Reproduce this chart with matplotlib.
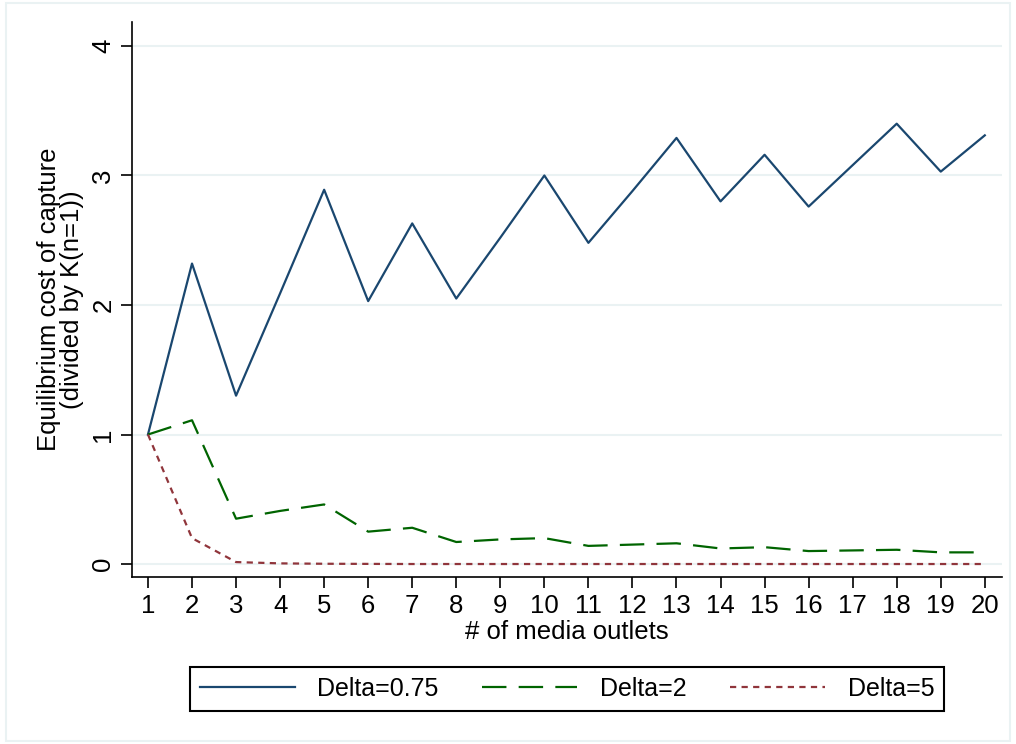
import matplotlib
matplotlib.use("Agg")
import matplotlib.pyplot as plt
from matplotlib.patches import Rectangle

plt.rcParams['font.family'] = ['Liberation Sans', 'DejaVu Sans']

outlets = list(range(1, 21))
delta_075 = [1.00, 2.32, 1.30, 2.09, 2.89, 2.03, 2.63, 2.05, 2.52, 3.00,
             2.48, 2.88, 3.29, 2.80, 3.16, 2.76, 3.08, 3.40, 3.03, 3.31]
delta_2 = [1.00, 1.11, 0.35, 0.41, 0.46, 0.25, 0.28, 0.17, 0.19, 0.20,
           0.14, 0.15, 0.16, 0.12, 0.13, 0.10, 0.105, 0.11, 0.09, 0.09]
delta_5 = [1.00, 0.20, 0.015, 0.005, 0.002, 0.001, 0.0, 0.0, 0.0, 0.0,
           0.0, 0.0, 0.0, 0.0, 0.0, 0.0, 0.0, 0.0, 0.0, 0.0]
labels = ["Delta=0.75", "Delta=2", "Delta=5"]
yticks = [0, 1, 2, 3, 4]

fig = plt.figure(figsize=(10.16, 7.44), dpi=100)
fig.patches.append(Rectangle((0.006, 0.004), 0.988, 0.992, transform=fig.transFigure,
                             fill=False, edgecolor='#eaf2f3', linewidth=1.5))
ax = fig.add_axes([0.1299, 0.2245, 0.8563, 0.7459])

for y in yticks:
    ax.axhline(y, color='#eaf2f3', linewidth=1.5, zorder=0)

ax.plot(outlets, delta_075, color='#1a476f', linewidth=1.6, label=labels[0])
ax.plot(outlets, delta_2, color='#006400', linewidth=1.6, dashes=(11, 5.5), label=labels[1])
ax.plot(outlets, delta_5, color='#90353b', linewidth=1.6, dashes=(2.8, 2.4), label=labels[2])

ax.set_xlim(0.637, 20.39)
ax.set_ylim(-0.10, 4.185)
ax.set_xticks(outlets)
ax.set_yticks(yticks)
ax.spines['top'].set_visible(False)
ax.spines['right'].set_visible(False)
for s in ('left', 'bottom'):
    ax.spines[s].set_linewidth(1.2)
ax.tick_params(axis='both', direction='out', length=8, width=1.2, labelsize=18.5, pad=4)
for lab in ax.get_yticklabels():
    lab.set_rotation(90)
    lab.set_va('center')
ax.set_xlabel("# of media outlets", fontsize=18.5, labelpad=2)
ax.set_ylabel("Equilibrium cost of capture\n(divided by K(n=1))", fontsize=18.5,
              labelpad=5, linespacing=0.95)

leg = fig.legend(loc='center', bbox_to_anchor=(0.558, 0.074), ncol=3, fontsize=18,
                 frameon=True, fancybox=False, edgecolor='black', framealpha=1,
                 handlelength=3.8, columnspacing=1.75, handletextpad=0.9,
                 borderpad=0.4, borderaxespad=0)
leg.get_frame().set_linewidth(1.5)

fig.savefig("out.png", dpi=100, facecolor='white')
